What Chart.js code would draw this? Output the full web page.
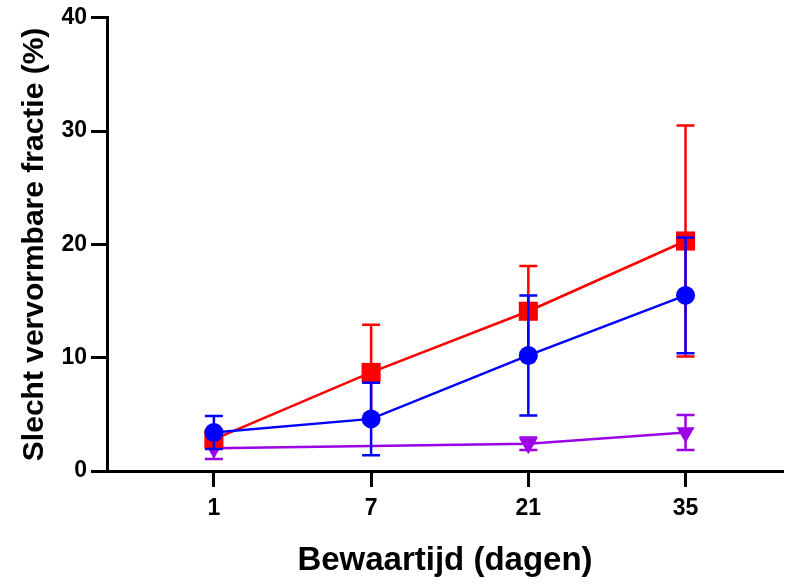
<!DOCTYPE html>
<html>
<head>
<meta charset="utf-8">
<script src="https://cdn.jsdelivr.net/npm/chart.js@4.4.1/dist/chart.umd.min.js"></script>
<style>
    html, body { margin: 0; padding: 0; background: #fff; }
    #wrap { width: 797px; height: 584px; }
</style>
</head>
<body>
<div id="wrap"><canvas id="chart" width="797" height="584"></canvas></div>
<script>
const days = ['1', '7', '21', '35'];
const yTicks = [0, 10, 20, 30, 40];

const redMean = [2.8, 8.7, 14.1, 20.3];
const redSd = [0.5, 4.2, 4.0, 10.2];
const blueMean = [3.4, 4.6, 10.2, 15.5];
const blueSd = [1.45, 3.2, 5.3, 5.1];
// no marker visible at day 7 for this series, the line just passes through
const purpleMean = [2.0, null, 2.4, 3.4];
const purpleSd = [0.95, null, 0.55, 1.55];

const xTitle = 'Bewaartijd (dagen)';
const yTitle = 'Slecht vervormbare fractie (%)';

const fontFamily = '"Liberation Sans", Arial, sans-serif';

function toPoints(values) {
    return values.map((v, i) => ({ x: i, y: v }));
}

// draws the error bars of a dataset just before the dataset itself
const errorBars = {
    id: 'errorBars',
    beforeDatasetDraw(chart, args) {
        const ds = chart.data.datasets[args.index];
        if (!ds.errors) return;
        const ctx = chart.ctx;
        const xs = chart.scales.x;
        const ys = chart.scales.y;
        ctx.save();
        ctx.strokeStyle = ds.borderColor;
        ctx.lineWidth = 2.5;
        ds.data.forEach((p, i) => {
            const err = ds.errors[i];
            if (p.y === null || err === null) return;
            const px = xs.getPixelForValue(p.x);
            const top = ys.getPixelForValue(p.y + err);
            const bot = ys.getPixelForValue(Math.max(p.y - err, 0));
            ctx.beginPath();
            ctx.moveTo(px, top);
            ctx.lineTo(px, bot);
            ctx.moveTo(px - 9, top);
            ctx.lineTo(px + 9, top);
            ctx.moveTo(px - 9, bot);
            ctx.lineTo(px + 9, bot);
            ctx.stroke();
        });
        ctx.restore();
    }
};

const ctx = document.getElementById('chart').getContext('2d');
const chart = new Chart(ctx, {
    type: 'line',
    data: {
        datasets: [
            {
                label: 'blauw',
                data: toPoints(blueMean),
                errors: blueSd,
                borderColor: '#0000ff',
                backgroundColor: '#0000ff',
                borderWidth: 2.5,
                pointStyle: 'circle',
                pointRadius: 9.5,
                pointBorderWidth: 0,
            },
            {
                label: 'rood',
                data: toPoints(redMean),
                errors: redSd,
                borderColor: '#ff0000',
                backgroundColor: '#ff0000',
                borderWidth: 2.5,
                pointStyle: 'rect',
                pointRadius: 13.5,
                pointBorderWidth: 0,
            },
            {
                label: 'paars',
                data: toPoints(purpleMean),
                errors: purpleSd,
                borderColor: '#9b00e6',
                backgroundColor: '#9b00e6',
                borderWidth: 2.5,
                spanGaps: true,
                pointStyle: 'triangle',
                pointRotation: 180,
                pointRadius: 10.5,
                pointBorderWidth: 0,
            },
        ],
    },
    options: {
        responsive: false,
        animation: false,
        clip: false,
        layout: { padding: { top: 17, right: 14, left: 0, bottom: 0 } },
        plugins: {
            legend: { display: false },
            tooltip: { enabled: false },
        },
        scales: {
            x: {
                type: 'linear',
                min: -0.68,
                max: 3.62,
                afterBuildTicks(scale) {
                    scale.ticks = days.map((d, i) => ({ value: i }));
                },
                afterFit(scale) { scale.height = 113; },
                grid: {
                    drawOnChartArea: false,
                    drawTicks: true,
                    tickLength: 16,
                    tickWidth: 3,
                    tickColor: '#000',
                },
                border: { display: true, color: '#000', width: 3 },
                ticks: {
                    color: '#000',
                    padding: 8,
                    maxRotation: 0,
                    font: { family: fontFamily, size: 23, weight: 'bold' },
                    callback: (v) => days[v],
                },
                title: {
                    display: true,
                    text: xTitle,
                    color: '#000',
                    padding: { top: 3, bottom: 3 },
                    font: { family: fontFamily, size: 33, weight: 'bold' },
                },
            },
            y: {
                min: 0,
                max: 40,
                afterBuildTicks(scale) {
                    scale.ticks = yTicks.map(v => ({ value: v }));
                },
                afterFit(scale) { scale.width = 107; },
                grid: {
                    drawOnChartArea: false,
                    drawTicks: true,
                    tickLength: 16,
                    tickWidth: 3,
                    tickColor: '#000',
                },
                border: { display: true, color: '#000', width: 3 },
                ticks: {
                    color: '#000',
                    padding: 4,
                    font: { family: fontFamily, size: 23, weight: 'bold' },
                },
                title: {
                    display: true,
                    text: yTitle,
                    color: '#000',
                    padding: { top: 17, bottom: 0 },
                    font: { family: fontFamily, size: 30, weight: 'bold' },
                },
            },
        },
    },
    plugins: [errorBars],
});
</script>
</body>
</html>
